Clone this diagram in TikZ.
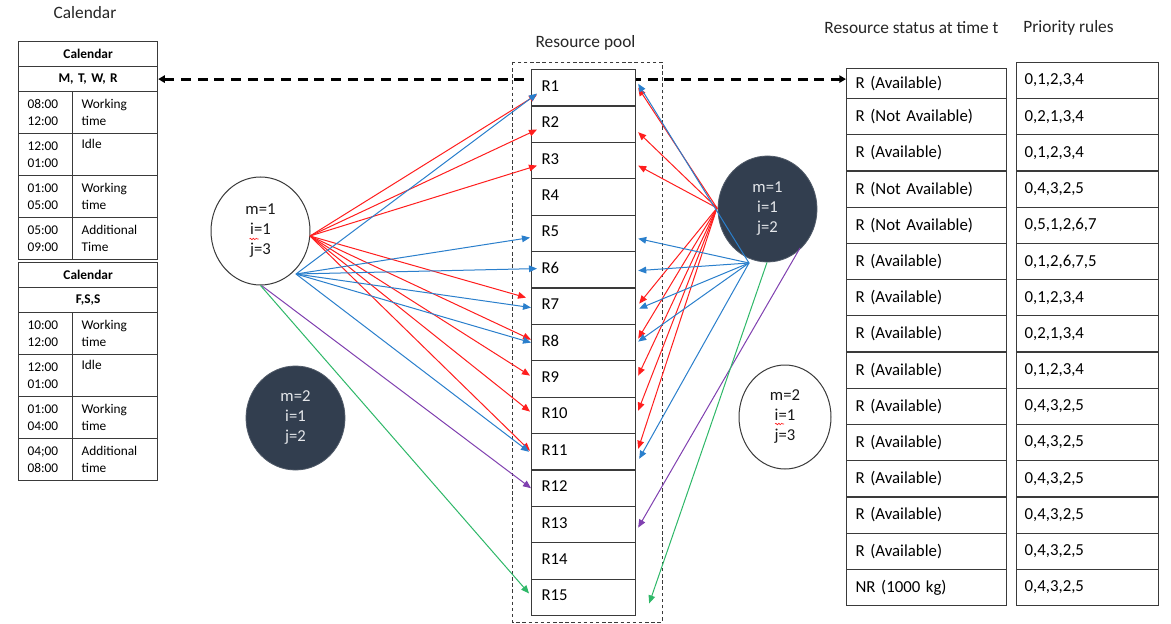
\documentclass[tikz,border=0pt]{standalone}
\usepackage{fontspec}
\setmainfont{Carlito}
\usetikzlibrary{shapes.geometric,arrows.meta,calc,decorations.pathmorphing}

\definecolor{slate}{HTML}{323E4F}
\definecolor{slatetext}{HTML}{E4E6EA}
\definecolor{arrred}{HTML}{FF1E1E}
\definecolor{arrblue}{HTML}{2A7FCC}
\definecolor{arrpurple}{HTML}{8040B0}
\definecolor{arrgreen}{HTML}{2EB868}
\definecolor{gridline}{HTML}{3A3A3A}

\begin{document}
\begin{tikzpicture}[x=0.75pt,y=-0.75pt,
  % calendar table cells
  calcell/.style={draw=gridline, line width=0.9pt, anchor=north west,
    inner xsep=6.75pt, inner ysep=0pt, align=left,
    font=\fontsize{10}{12.75}\selectfont},
  calhead/.style={calcell, text width=90.75pt, align=center,
    minimum height=18.75pt, font=\fontsize{10}{12}\selectfont\bfseries},
  caltime/.style={calcell, text width=27pt, minimum height=31.5pt},
  calnote/.style={calcell, text width=50.25pt, minimum height=31.5pt},
  % resource pool boxes
  resbox/.style={draw=gridline, line width=0.9pt, fill=white, anchor=north west,
    inner xsep=7.5pt, inner ysep=0pt, text width=63pt, align=left,
    text depth=3pt, minimum height=27.3pt, font=\fontsize{12.5}{14}\selectfont},
  % status and priority tables
  stcell/.style={draw=gridline, line width=0.9pt, anchor=north west,
    inner xsep=6.75pt, inner ysep=0pt, text width=106.5pt, align=left,
    font=\fontsize{12.6}{14}\selectfont},
  prcell/.style={stcell, inner xsep=6pt, text width=94.5pt},
  % job circles
  wcirc/.style={ellipse, draw=gridline, line width=0.75pt, fill=white,
    inner sep=0pt, align=center, text=black!90,
    font=\fontsize{12.5}{15}\selectfont},
  dcirc/.style={ellipse, fill=slate, draw=slate!85!white, line width=0.6pt,
    inner sep=0pt, align=center, text=slatetext,
    font=\fontsize{12.5}{15}\selectfont},
  title/.style={font=\fontsize{13}{15}\selectfont, text=black!85},
  conn/.style={line width=0.75pt, -{Triangle[length=6pt,width=5pt]}},
  spell/.style={arrred, line width=0.45pt, decorate,
    decoration={snake, amplitude=0.55pt, segment length=2.2pt}}
]
\fill[white] (0,0) rectangle (1171,624);
\useasboundingbox (0,0) rectangle (1171,624);

% ---------- headings ----------
\node[title] (tcal) at (85,13) {Calendar};
\node[title] (tpool) at (585.5,43) {Resource pool};
\node[title] (tstat) at (911.5,28) {Resource status at time t};
\node[title] (tprio) at (1068.5,28) {Priority rules};

% ---------- calendar, weekdays ----------
\node[calhead] (cala) at (18,41) {Calendar};
\node[calhead] (mtwr) at (18,66) {M, T, W, R};
\node[caltime] (a1t) at (18,91)  {08:00\\12:00};
\node[calnote] (a1n) at (72,91)  {Working\\time};
\node[caltime] (a2t) at (18,133) {12:00\\01:00};
\node[calnote] (a2n) at (72,133) {Idle\\\strut};
\node[caltime] (a3t) at (18,175) {01:00\\05:00};
\node[calnote] (a3n) at (72,175) {Working\\time};
\node[caltime] (a4t) at (18,217) {05:00\\09:00};
\node[calnote] (a4n) at (72,217) {Additional\\Time};

% ---------- calendar, weekend ----------
\node[calhead] (calb) at (18,262) {Calendar};
\node[calhead] (fss)  at (18,287) {F,S,S};
\node[caltime] (b1t) at (18,312) {10:00\\12:00};
\node[calnote] (b1n) at (72,312) {Working\\time};
\node[caltime] (b2t) at (18,354) {12:00\\01:00};
\node[calnote] (b2n) at (72,354) {Idle\\\strut};
\node[caltime] (b3t) at (18,396) {01:00\\04:00};
\node[calnote] (b3n) at (72,396) {Working\\time};
\node[caltime] (b4t) at (18,438) {04;00\\08:00};
\node[calnote] (b4n) at (72,438) {Additional\\time};

% ---------- status and priority tables ----------
\node[stcell, minimum height=22.5pt] (st1) at (846,68) {R (Available)};
\node[prcell, minimum height=27pt]   (pr1) at (1016,62) {0,1,2,3,4};
\foreach \k/\st/\pr in {2/R (Not Available)/{0,2,1,3,4},
                        3/R (Available)/{0,1,2,3,4},
                        4/R (Not Available)/{0,4,3,2,5},
                        5/R (Not Available)/{0,5,1,2,6,7},
                        6/R (Available)/{0,1,2,6,7,5},
                        7/R (Available)/{0,1,2,3,4},
                        8/R (Available)/{0,2,1,3,4},
                        9/R (Available)/{0,1,2,3,4},
                        10/R (Available)/{0,4,3,2,5},
                        11/R (Available)/{0,4,3,2,5},
                        12/R (Available)/{0,4,3,2,5},
                        13/R (Available)/{0,4,3,2,5},
                        14/R (Available)/{0,4,3,2,5},
                        15/NR (1000 kg)/{0,4,3,2,5}}{
  \node[stcell, minimum height=27.16pt] (st\k) at (846,{98+36.21*(\k-2)}) {\st};
  \node[prcell, minimum height=27.16pt] (pr\k) at (1016,{98+36.21*(\k-2)}) {\pr};
}

% ---------- calendar link to the status table ----------
\draw[line width=2.2pt, dash pattern=on 7.5pt off 5pt,
      {Triangle[length=5pt,width=5.5pt]}-{Triangle[length=5pt,width=5.5pt]}]
  (mtwr.east) -- (mtwr.east -| st1.west);

% ---------- resource pool ----------
\draw[gridline, line width=0.6pt, dash pattern=on 2.6pt off 2pt]
  (512,62) rectangle (662,622);
\foreach \k in {1,...,15}
  \node[resbox] (R\k) at (531,{69+36.4*(\k-1)}) {R\k};

% ---------- jobs ----------
\node[wcirc, minimum width=74.25pt, minimum height=81pt] (c1) at (260.5,231) {m=1\\i=1\\j=3};
\node[dcirc, minimum width=74.25pt, minimum height=79.5pt] (c2) at (767.5,209) {m=1\\i=1\\j=2};
\node[dcirc, minimum width=74.25pt, minimum height=78pt] (c3) at (295.5,418) {m=2\\i=1\\j=2};
\node[wcirc, minimum width=69pt, minimum height=78pt] (c4) at (785,417) {m=2\\i=1\\j=3};
\draw[spell] ($(c1.center)+(-11,8)$) -- ($(c1.center)+(-2,8)$);
\draw[spell] ($(c4.center)+(-10,7)$) -- ($(c4.center)+(-1,7)$);

% ---------- assignments from job (m=1, i=1, j=3) ----------
\foreach \k/\dx/\dy in {1/6/6.8, 2/6/5.4, 3/6/5, 7/-5/-8.6, 8/0/-3, 9/-1/-3.4, 10/-1/-3.8, 11/-1/-1}
  \draw[conn, arrred] ($(c1.center)+(49.5,5)$) -- ($(R\k.west)+(\dx,\dy)$);
\foreach \k/\dx/\dy in {1/6/5.8, 5/-1/4.2, 6/6/-1.2, 7/0/1.4, 8/0/0, 11/-2/0}
  \draw[conn, arrblue] ($(c1.center)+(35.5,43)$) -- ($(R\k.west)+(\dx,\dy)$);
\draw[conn, arrpurple] ($(c1.south)+(1,0)$) -- (R12.west);
\draw[conn, arrgreen] ($(c1.south)+(0,0)$) -- ($(R15.west)+(-2,-4)$);

% ---------- assignments from job (m=1, i=1, j=2) ----------
\foreach \k/\dx/\dy in {1/2/0, 2/2/8, 3/2/5, 7/3/-2.6, 8/2/-4, 9/2/-3.4, 10/2/-4.8, 11/2/-3}
  \draw[conn, arrred] ($(c2.center)+(-50.5,-1)$) -- ($(R\k.east)+(\dx,\dy)$);
\foreach \k/\dx/\dy in {1/2/-4, 5/2/5.2, 6/2/0.8, 7/3/2.4, 8/2/-1, 11/3/7}
  \draw[conn, arrblue] ($(c2.center)+(-18.5,54)$) -- ($(R\k.east)+(\dx,\dy)$);
\draw[conn, arrpurple] ($(c2.center)+(32.5,39)$) -- ($(R13.east)+(2,3)$);
\draw[conn, arrgreen] ($(c2.south)+(-0.5,0)$) -- ($(R15.east)+(13,6)$);
\end{tikzpicture}
\end{document}
